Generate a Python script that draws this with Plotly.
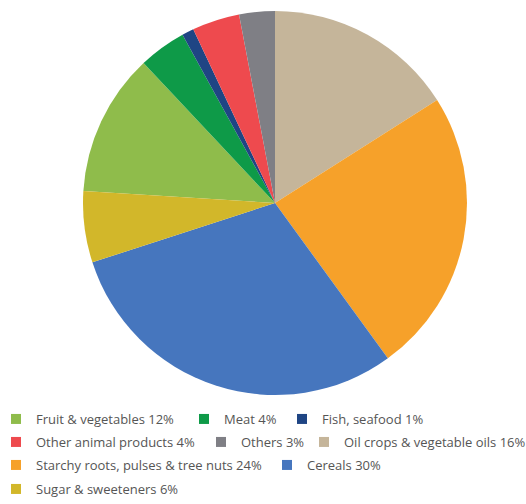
import plotly.graph_objects as go

labels = ["Fruit & vegetables", "Meat", "Fish, seafood", "Other animal products", "Others",
          "Oil crops & vegetable oils", "Starchy roots, pulses & tree nuts", "Cereals",
          "Sugar & sweeteners"]
values = [12, 4, 1, 4, 3, 16, 24, 30, 6]
colors = ["#8FBC4B", "#0E9A48", "#1F4584", "#EE4A4E", "#7F7F85",
          "#C5B59A", "#F6A12A", "#4676BE", "#D2B72A"]

W, H = 526, 504
cx, cy, r = 275, 203, 192

# legend layout (pixel position of each entry's text start, row centre)
leg_text_x = [32, 220, 318, 32, 237, 340, 32, 303, 32]
leg_row_y = [419, 419, 419, 442, 442, 442, 465, 465, 489]

fig = go.Figure()
fig.add_trace(go.Pie(
    labels=labels, values=values, sort=False, direction="clockwise",
    rotation=-sum(values[:5]) * 3.6,
    marker=dict(colors=colors, line=dict(width=0)),
    textinfo="none", hoverinfo="label+percent", showlegend=False,
    domain=dict(x=[(cx - r) / W, (cx + r) / W], y=[1 - (cy + r) / H, 1 - (cy - r) / H]),
))

font = dict(family="Open Sans", size=13, color="#555555")
legends = {}
for i, (lab, v, c) in enumerate(zip(labels, values, colors)):
    key = "legend" if i == 0 else f"legend{i + 1}"
    fig.add_trace(go.Scatter(
        x=[None], y=[None], mode="markers", name=f"{lab} {v}%",
        marker=dict(symbol="square", size=10, color=c),
        legend=key, showlegend=True, hoverinfo="skip",
    ))
    legends[key] = dict(orientation="h", x=(leg_text_x[i] - 36) / W, xanchor="left",
                        y=1 - leg_row_y[i] / H, yanchor="middle",
                        bgcolor="rgba(0,0,0,0)", font=font)

fig.update_layout(
    width=W, height=H,
    margin=dict(l=0, r=0, t=0, b=0, autoexpand=False),
    paper_bgcolor="white", plot_bgcolor="white",
    xaxis=dict(visible=False), yaxis=dict(visible=False),
    **legends,
)

fig.write_html("out.html")
